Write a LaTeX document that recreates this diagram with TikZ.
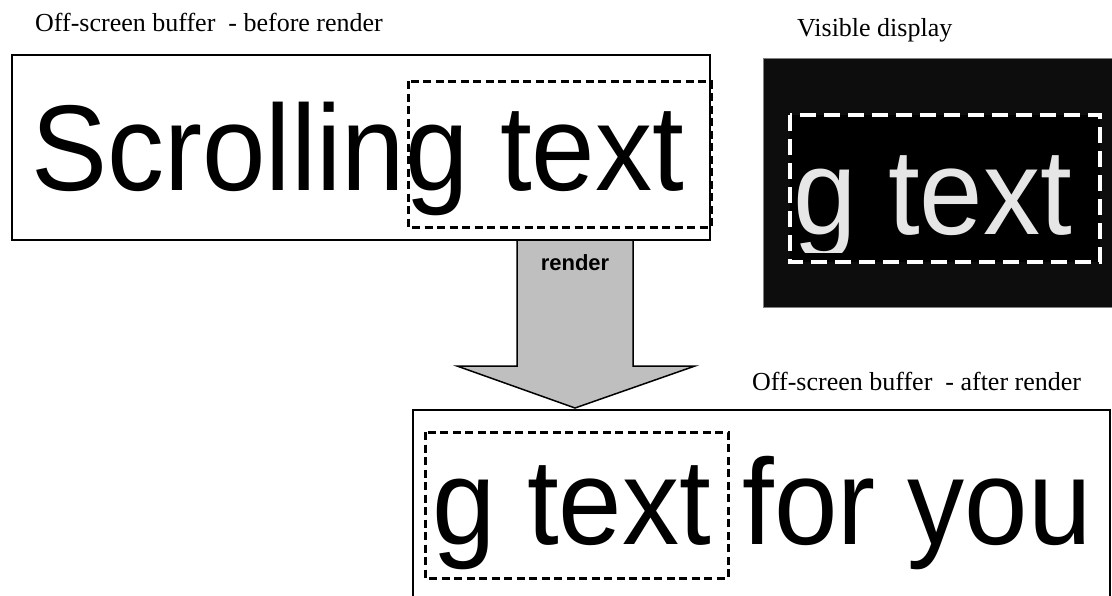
\documentclass[tikz,border=0pt]{standalone}
\usepackage{fontspec}
\setmainfont{Liberation Serif}
\newfontfamily\arialfont{Liberation Sans}
\newfontfamily\bigfont[FakeStretch=0.935]{Liberation Sans}
\begin{document}
\begin{tikzpicture}[x=1pt,y=-1pt,
  frame/.style={draw=black, line width=1.5pt},
  blackdash/.style={draw=black, line width=3pt, dash pattern=on 8pt off 4.5pt},
  whitedash/.style={draw=white, line width=4pt, dash pattern=on 16pt off 8pt},
  bigtext/.style={font=\bigfont\fontsize{122}{122}\selectfont, inner sep=0pt, anchor=base west},
  titletext/.style={font=\fontsize{26}{26}\selectfont, inner sep=0pt, anchor=base west},
  arrowbody/.style={draw=black, line width=1.5pt, fill=black!25, line join=miter}]
\useasboundingbox (0,0) rectangle (1112,595);

% titles
\node[titletext] (t1) at (35,31) {Off-screen buffer\ \ - before render};
\node[titletext] (t2) at (797,36) {Visible display};
\node[titletext] (t3) at (752,390) {Off-screen buffer\ \ - after render};

% top box
\draw[frame, fill=white] (12,55) rectangle (710,240);
\node[bigtext] (s1) at (31,190) {Scrolling text};
\draw[blackdash] (408,81) rectangle (711,227);

% visible display
\definecolor{dispbg}{HTML}{0D0D0D}
\definecolor{disptext}{HTML}{E6E6E6}
\draw[fill=dispbg, draw=gray, line width=1pt] (763,58) rectangle (1115,307);
\fill[black] (790,115) rectangle (1100,262);
\begin{scope}
  \clip (790,115) rectangle (1100,252);
  \node[bigtext, text=disptext] (s2) at (793,234) {g text};
\end{scope}
\draw[whitedash] (790,115) rectangle (1100,262);

% arrow
\draw[arrowbody] (517,240) -- (633,240) -- (633,366) -- (695,366) -- (575,408) -- (457,366) -- (517,366) -- cycle;
\node[font=\arialfont\bfseries\fontsize{22}{22}\selectfont, inner sep=0pt] (r) at (575,263) {render};

% bottom box
\draw[frame] (413,410) rectangle (1110,600);
\node[bigtext] (s3) at (432,544) {g text for you};
\draw[blackdash] (425,432) rectangle (728,578);
\end{tikzpicture}
\end{document}
